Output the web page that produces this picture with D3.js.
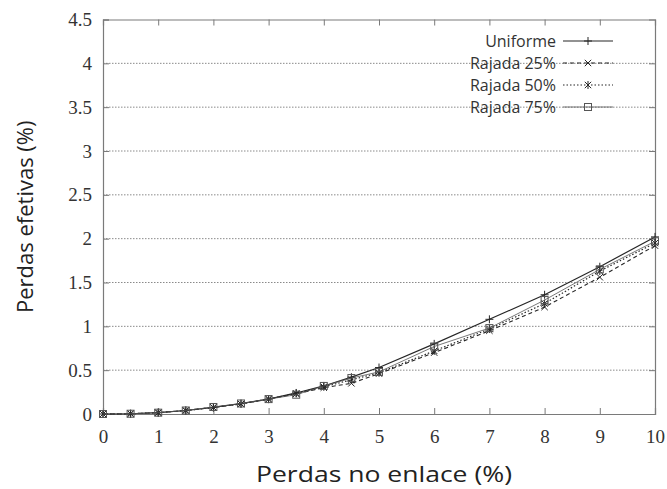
<!DOCTYPE html>
<html><head><meta charset="utf-8">
<script src="https://cdn.jsdelivr.net/npm/d3@7"></script>
<style>body{margin:0;background:#fff}svg{display:block}</style>
</head><body>
<script>
const xValues = [0,0.5,1,1.5,2,2.5,3,3.5,4,4.5,5,6,7,8,9,10];
const uniforme = [0,0.003,0.015,0.04,0.075,0.12,0.17,0.24,0.32,0.42,0.53,0.80,1.08,1.36,1.68,2.02];
const rajada25 = [0,0.003,0.015,0.04,0.075,0.115,0.17,0.23,0.30,0.35,0.46,0.70,0.95,1.22,1.56,1.92];
const rajada50 = [0,0.003,0.015,0.04,0.075,0.115,0.17,0.235,0.31,0.39,0.47,0.72,0.97,1.26,1.63,1.95];
const rajada75 = [0,0.003,0.015,0.04,0.08,0.12,0.17,0.22,0.32,0.41,0.48,0.77,0.98,1.30,1.65,1.97];
const seriesNames = ["Uniforme","Rajada 25%","Rajada 50%","Rajada 75%"];
const xTicks = [0,1,2,3,4,5,6,7,8,9,10];
const yTicks = [0,0.5,1,1.5,2,2.5,3,3.5,4,4.5];

const W=667,H=489;
const m={l:103,r:12,t:19.5,b:75};
const svg=d3.select("body").append("svg").attr("width",W).attr("height",H);
const x=d3.scaleLinear().domain([0,10]).range([m.l,W-m.r]);
const y=d3.scaleLinear().domain([0,4.5]).range([H-m.b,m.t]);
const axisCol="#7a7a7a", lineCol="#262626";
const serif="'Liberation Serif','DejaVu Serif','Times New Roman',serif";
const sans="'Open Sans','Noto Sans',sans-serif";

// grid
svg.append("g").selectAll("line").data(yTicks.filter(d=>d>0&&d<4.5)).join("line")
 .attr("x1",x(0)).attr("x2",x(10)).attr("y1",d=>y(d)).attr("y2",d=>y(d))
 .attr("stroke","#8a8a8a").attr("stroke-width",1).attr("stroke-dasharray","1.5,1.5");

// axes
const gx=svg.append("g").attr("transform",`translate(0,${y(0)})`)
 .call(d3.axisBottom(x).tickValues(xTicks).tickFormat(d3.format("d")).tickSize(-6).tickPadding(16));
const gxt=svg.append("g").attr("transform",`translate(0,${y(4.5)})`)
 .call(d3.axisTop(x).tickValues(xTicks).tickFormat("").tickSize(-6));
const gy=svg.append("g").attr("transform",`translate(${x(0)},0)`)
 .call(d3.axisLeft(y).tickValues(yTicks).tickFormat(d=>String(d)).tickSize(-6).tickPadding(11));
const gyr=svg.append("g").attr("transform",`translate(${x(10)},0)`)
 .call(d3.axisRight(y).tickValues(yTicks).tickFormat("").tickSize(-6));
[gx,gxt,gy,gyr].forEach(g=>{
  g.attr("font-family",null).attr("font-size",null);
  g.select(".domain").attr("stroke",axisCol).attr("stroke-width",1.2);
  g.selectAll(".tick line").attr("stroke",axisCol).attr("stroke-width",1);
  g.selectAll("text").style("font-family",serif).style("font-size","19px").attr("fill","#333");
});
gyr.selectAll(".tick").filter(d=>d===0||d===4.5).remove();
gxt.selectAll(".tick").filter(d=>d===0||d===10).remove();

// series
const series=[
 {name:seriesNames[0],vals:uniforme,dash:null,marker:"plus",w:1.2},
 {name:seriesNames[1],vals:rajada25,dash:"4,3",marker:"cross",w:1.1},
 {name:seriesNames[2],vals:rajada50,dash:"1.5,2",marker:"star",w:1.2},
 {name:seriesNames[3],vals:rajada75,dash:null,marker:"square",w:0.8,col:"#555"}
];
const line=d3.line().x((d,i)=>x(xValues[i])).y(d=>y(d));
function marker(g,type,cx,cy,col){
  const s=4;
  if(type==="plus"||type==="star"){
    g.append("line").attr("x1",cx).attr("x2",cx).attr("y1",cy-s).attr("y2",cy+s).attr("stroke",col);
  }
  if(type==="plus"){
    g.append("line").attr("x1",cx-s).attr("x2",cx+s).attr("y1",cy).attr("y2",cy).attr("stroke",col);
  }
  if(type==="cross"||type==="star"){
    g.append("line").attr("x1",cx-s*0.8).attr("x2",cx+s*0.8).attr("y1",cy-s*0.8).attr("y2",cy+s*0.8).attr("stroke",col);
    g.append("line").attr("x1",cx-s*0.8).attr("x2",cx+s*0.8).attr("y1",cy+s*0.8).attr("y2",cy-s*0.8).attr("stroke",col);
  }
  if(type==="square"){
    g.append("rect").attr("x",cx-3.5).attr("y",cy-3.5).attr("width",7).attr("height",7).attr("fill","none").attr("stroke",col);
  }
}
series.forEach(s=>{
  const col=s.col||lineCol;
  svg.append("path").datum(s.vals).attr("d",line).attr("fill","none").attr("stroke",col)
   .attr("stroke-width",s.w).attr("stroke-dasharray",s.dash);
  const g=svg.append("g").attr("stroke-width",1);
  s.vals.forEach((v,i)=>marker(g,s.marker,x(xValues[i]),y(v),col));
});

// legend
const lg=svg.append("g");
series.forEach((s,i)=>{
  const col=s.col||lineCol;
  const yy=41+i*22;
  lg.append("text").attr("x",556).attr("y",yy+5.5).attr("text-anchor","end")
   .style("font-family",sans).style("font-size","16px").attr("fill","#333").text(s.name);
  lg.append("line").attr("x1",563).attr("x2",613).attr("y1",yy).attr("y2",yy)
   .attr("stroke",col).attr("stroke-width",s.w).attr("stroke-dasharray",s.dash);
  const g=lg.append("g").attr("stroke-width",1);
  marker(g,s.marker,588,yy,col);
});

// titles
svg.append("text").attr("x",384).attr("y",482).attr("text-anchor","middle")
 .style("font-family",sans).style("font-size","22px").attr("fill","#222")
 .attr("textLength",256).attr("lengthAdjust","spacingAndGlyphs").text("Perdas no enlace (%)");
svg.append("text").attr("transform",`translate(33,${(y(0)+y(4.5))/2}) rotate(-90)`).attr("text-anchor","middle")
 .style("font-family",sans).style("font-size","22px").attr("fill","#222").text("Perdas efetivas (%)");
</script>
</body></html>
